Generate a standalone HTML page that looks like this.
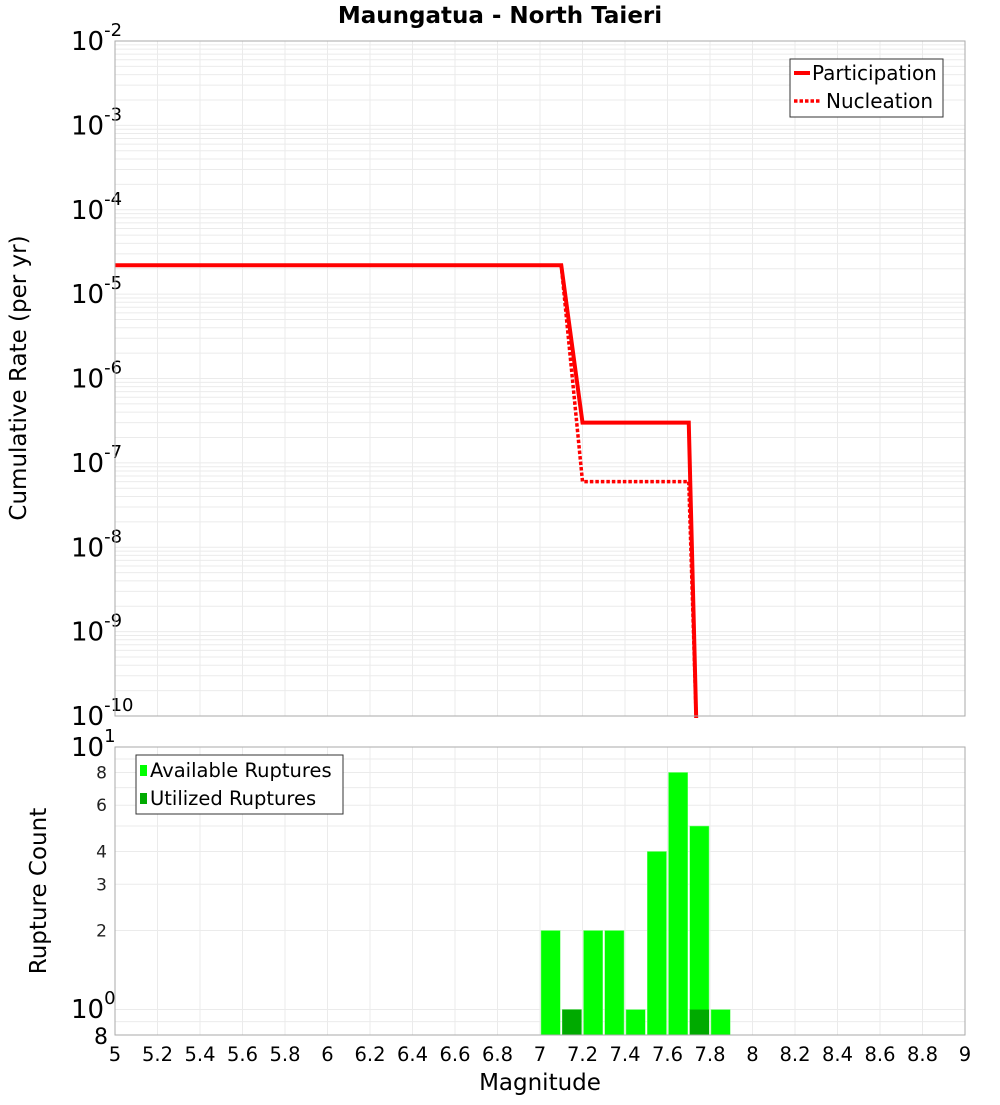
<!DOCTYPE html>
<html><head><meta charset="utf-8"><style>
body{margin:0;background:#fff;font-family:"Liberation Sans","DejaVu Sans",sans-serif}
svg text{font-family:"DejaVu Sans","Liberation Sans",sans-serif}
</style></head><body>
<svg id="c" width="1000" height="1100" xmlns="http://www.w3.org/2000/svg"></svg>
<script>
const partMags=[5,7.1,7.2,7.7,7.735];
const partRates=[2.2e-5,2.2e-5,3e-7,3e-7,1e-11];
const nuclMags=[5,7.1,7.2,7.7,7.735];
const nuclRates=[2.2e-5,2.2e-5,6e-8,6e-8,1e-11];
const binStarts=[7.0,7.1,7.2,7.3,7.4,7.5,7.6,7.7,7.8];
const availCounts=[2,1,2,2,1,4,8,5,1];
const utilCounts=[0,1,0,0,0,0,0,1,0];
const xTicks=[5,5.2,5.4,5.6,5.8,6,6.2,6.4,6.6,6.8,7,7.2,7.4,7.6,7.8,8,8.2,8.4,8.6,8.8,9];
const topExps=[-2,-3,-4,-5,-6,-7,-8,-9,-10];
const botTicks=[8,6,4,3,2];

const svg=document.getElementById('c');const NS='http://www.w3.org/2000/svg';
function el(t,a,p){const e=document.createElementNS(NS,t);for(const k in a)e.setAttribute(k,a[k]);(p||svg).appendChild(e);return e;}
const X0=115,X1=965;
const xs=m=>X0+(m-5)/4*(X1-X0);
const T0=41,T1=716;
const yT=r=>T0+(-2-Math.log10(r))/8*(T1-T0);
const B0=747,B1=1035;
const yB=v=>B0+(1-Math.log10(v))/(1-Math.log10(0.8))*(B1-B0);

let t=el('text',{x:500,y:23,'text-anchor':'middle','font-size':23,'font-weight':'bold'});t.textContent='Maungatua - North Taieri';


const gTop=el('g',{});
for(let e=-10;e<-2;e++)for(let k=1;k<10;k++){const y=yT(k*Math.pow(10,e));el('line',{x1:X0,x2:X1,y1:y,y2:y,stroke:'#ebebeb','stroke-width':1},gTop);}
for(let m=5;m<=9.001;m+=0.2){const x=xs(m);el('line',{x1:x,x2:x,y1:T0,y2:T1,stroke:'#ebebeb'},gTop);el('line',{x1:x,x2:x,y1:B0,y2:B1,stroke:'#ebebeb'},gTop);}
for(let v=1;v<=10;v++){const y=yB(v);el('line',{x1:X0,x2:X1,y1:y,y2:y,stroke:'#ebebeb'},gTop);}
el('line',{x1:X0,x2:X1,y1:yB(0.9),y2:yB(0.9),stroke:'#ebebeb'},gTop);

topExps.forEach(e=>{const y=yT(Math.pow(10,e));const tx=el('text',{x:71,y:y+9,'font-size':26});tx.textContent='10';
const s=el('tspan',{dy:-14,'font-size':18},tx);s.textContent=String(e);
});
t=el('text',{x:26,y:378,'font-size':23,'text-anchor':'middle',transform:'rotate(-90 26 378)'});t.textContent='Cumulative Rate (per yr)';


function line(ms,rs,dash,name){const pts=ms.map((m,i)=>xs(m)+','+Math.min(yT(rs[i]),T1+2)).join(' ');
const p=el('polyline',{points:pts,fill:'none',stroke:'#ff0000','stroke-width':dash?3.5:4,'stroke-dasharray':dash?'3.5,2':'none'});
}
line(nuclMags,nuclRates,true,'nucleation-line');
line(partMags,partRates,false,'participation-line');
el('rect',{x:X0,y:T0,width:X1-X0,height:T1-T0,fill:'none',stroke:'#aaa'});

const lg=el('g',{});
el('rect',{x:790,y:59,width:153,height:58,fill:'#fff',stroke:'#333'},lg);
el('line',{x1:794,x2:810,y1:73,y2:73,stroke:'#f00','stroke-width':4},lg);
el('line',{x1:794,x2:820,y1:101,y2:101,stroke:'#f00','stroke-width':3.5,'stroke-dasharray':'3.5,2'},lg);
t=el('text',{x:812,y:80,'font-size':20},lg);t.textContent='Participation';
t=el('text',{x:826,y:108,'font-size':20},lg);t.textContent='Nucleation';

binStarts.forEach((b,i)=>{const x=xs(b)+1,w=xs(b+0.1)-xs(b)-2;
if(availCounts[i]>0){const y=yB(availCounts[i]);const r=el('rect',{x:x,y:y,width:w,height:B1-y,fill:'#00ff00',stroke:'#7fff7f','stroke-width':0.5});
}
if(utilCounts[i]>0){const y=yB(utilCounts[i]);const r=el('rect',{x:x,y:y,width:w,height:B1-y,fill:'#00aa00'});
}});
el('rect',{x:X0,y:B0,width:X1-X0,height:B1-B0,fill:'none',stroke:'#aaa'});

[[1,747],[0,1009]].forEach(([e,y])=>{const tx=el('text',{x:71,y:y+9,'font-size':26});tx.textContent='10';const s=el('tspan',{dy:-14,'font-size':18},tx);s.textContent=String(e);});
botTicks.forEach(v=>{const tx=el('text',{x:107,y:yB(v)+6,'font-size':17,'text-anchor':'end',fill:'#222'});tx.textContent=v;
});
t=el('text',{x:108,y:1044,'font-size':22,'text-anchor':'end'});t.textContent='8';
t=el('text',{x:46,y:891,'font-size':23,'text-anchor':'middle',transform:'rotate(-90 46 891)'});t.textContent='Rupture Count';


const lb=el('g',{});
el('rect',{x:136,y:755,width:207,height:59,fill:'#fff',stroke:'#333'},lb);
el('rect',{x:140,y:765,width:7,height:11,fill:'#00ff00'},lb);
el('rect',{x:140,y:793,width:7,height:11,fill:'#00aa00'},lb);
t=el('text',{x:150,y:777,'font-size':19.5},lb);t.textContent='Available Ruptures';
t=el('text',{x:150,y:805,'font-size':19.5},lb);t.textContent='Utilized Ruptures';

xTicks.forEach(m=>{const tx=el('text',{x:xs(m),y:1061,'font-size':19.5,'text-anchor':'middle'});tx.textContent=String(m);
});
t=el('text',{x:540,y:1090,'font-size':23,'text-anchor':'middle'});t.textContent='Magnitude';

</script>
</body></html>
